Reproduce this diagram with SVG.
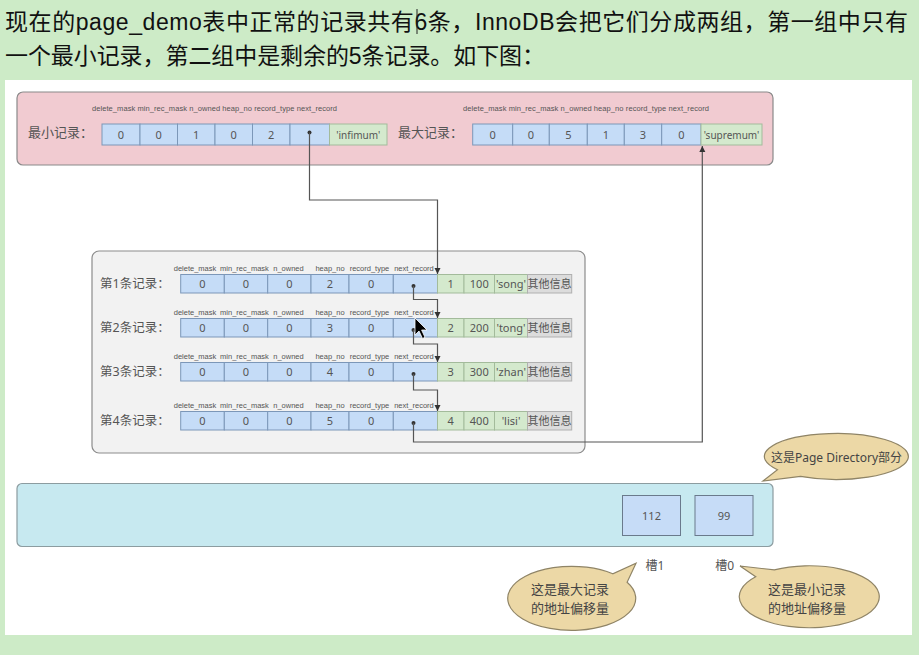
<svg xmlns="http://www.w3.org/2000/svg" width="919" height="655" viewBox="0 0 919 655">
<style>
.hd{font-family:"Liberation Sans","Noto Sans CJK SC",sans-serif;font-size:23px;fill:#111}
.t{font-family:"Noto Sans","Noto Sans CJK SC",sans-serif;fill:#555}
.fl{font-family:"Liberation Sans","Noto Sans CJK SC",sans-serif;font-size:7.5px;text-anchor:middle;fill:#555}
.v{font-size:11px;text-anchor:middle}
.lb{font-size:12.5px;fill:#555}
.b{fill:#c5dcf7;stroke:#7c97b8;stroke-width:1}
.g{fill:#d4e9cd;stroke:#a3bb9b;stroke-width:1}
.gy{fill:#dcdcdc;stroke:#b0b0b0;stroke-width:1}
.cn{fill:none;stroke:#555;stroke-width:1.2}
.dot{fill:#333}
.bub{fill:#ecd8a6;stroke:#8f8466;stroke-width:1.2}
.bt{font-size:13px;text-anchor:middle;fill:#444}
</style>
<defs>
<marker id="ah" markerUnits="userSpaceOnUse" markerWidth="7" markerHeight="7" refX="6" refY="3" orient="auto">
<path d="M0,0 L6,3 L0,6 z" fill="#333"/>
</marker>
</defs>
<rect x="0" y="0" width="919" height="655" fill="#cdebc7"/>
<text class="hd" x="5" y="30" textLength="903" lengthAdjust="spacing">现在的page_demo表中正常的记录共有6条，InnoDB会把它们分成两组，第一组中只有</text>
<text class="hd" x="5" y="64" textLength="540" lengthAdjust="spacing">一个最小记录，第二组中是剩余的5条记录。如下图：</text>
<line x1="417" y1="9" x2="417" y2="34" stroke="#222" stroke-width="1"/>
<rect x="5" y="80" width="907" height="555" fill="#ffffff"/>

<g id="top-panel">
<rect x="17" y="92" width="756" height="73" rx="6" fill="#f1cbd1" stroke="#8a8a8a" stroke-width="1.2"/>
</g>

<g id="min-record" class="t">
<text class="lb" x="28" y="137" style="font-size:13px">最小记录：</text>
<text class="fl" x="92" y="111" textLength="245" style="text-anchor:start">delete_mask min_rec_mask n_owned heap_no record_type next_record</text>
<rect class="b" x="102" y="124" width="38" height="21"/>
<rect class="b" x="140" y="124" width="37.5" height="21"/>
<rect class="b" x="177.5" y="124" width="37.5" height="21"/>
<rect class="b" x="215" y="124" width="37.5" height="21"/>
<rect class="b" x="252.5" y="124" width="37.5" height="21"/>
<rect class="b" x="290" y="124" width="39.5" height="21"/>
<rect class="g" x="329.5" y="124" width="57.5" height="21"/>
<text class="v" x="121" y="138.5">0</text>
<text class="v" x="158.75" y="138.5">0</text>
<text class="v" x="196.25" y="138.5">1</text>
<text class="v" x="233.75" y="138.5">0</text>
<text class="v" x="271.25" y="138.5">2</text>
<circle class="dot" cx="309.5" cy="132.5" r="2"/>
<text class="v" x="358.25" y="138.5" style="font-size:10px">'infimum'</text>
</g>

<g id="max-record" class="t">
<text class="lb" x="398" y="137" style="font-size:13px">最大记录：</text>
<text class="fl" x="463" y="111" textLength="246" style="text-anchor:start">delete_mask min_rec_mask n_owned heap_no record_type next_record</text>
<rect class="b" x="472.7" y="124" width="40" height="21"/>
<rect class="b" x="512.7" y="124" width="36.6" height="21"/>
<rect class="b" x="549.3" y="124" width="38" height="21"/>
<rect class="b" x="587.3" y="124" width="37" height="21"/>
<rect class="b" x="624.3" y="124" width="37.4" height="21"/>
<rect class="b" x="661.7" y="124" width="39.3" height="21"/>
<rect class="g" x="701" y="124" width="61" height="21"/>
<text class="v" x="492.7" y="138.5">0</text>
<text class="v" x="531" y="138.5">0</text>
<text class="v" x="568.3" y="138.5">5</text>
<text class="v" x="605.8" y="138.5">1</text>
<text class="v" x="643" y="138.5">3</text>
<text class="v" x="681.35" y="138.5">0</text>
<text class="v" x="731.5" y="138.5" style="font-size:10px">'supremum'</text>
</g>

<g id="records-panel">
<rect x="92" y="251" width="493" height="202" rx="7" fill="#f2f2f2" stroke="#8c8c8c" stroke-width="1.2"/>
</g>

<g id="record-1" class="t">
<text class="lb" x="100" y="288">第1条记录：</text>
<text class="fl" x="195" y="271">delete_mask</text>
<text class="fl" x="244.5" y="271">min_rec_mask</text>
<text class="fl" x="288.5" y="271">n_owned</text>
<text class="fl" x="330" y="271">heap_no</text>
<text class="fl" x="369.5" y="271">record_type</text>
<text class="fl" x="414" y="271">next_record</text>
<rect class="b" x="180.7" y="274.5" width="43.6" height="18.5"/>
<rect class="b" x="224.3" y="274.5" width="43.4" height="18.5"/>
<rect class="b" x="267.7" y="274.5" width="43.3" height="18.5"/>
<rect class="b" x="311" y="274.5" width="38" height="18.5"/>
<rect class="b" x="349" y="274.5" width="44.3" height="18.5"/>
<rect class="b" x="393.3" y="274.5" width="44.2" height="18.5"/>
<rect class="g" x="437.5" y="274.5" width="26.5" height="18.5"/>
<rect class="g" x="464" y="274.5" width="30.5" height="18.5"/>
<rect class="g" x="494.5" y="274.5" width="33" height="18.5"/>
<rect class="gy" x="527.5" y="274.5" width="44.2" height="18.5"/>
<text class="v" x="202.5" y="288">0</text>
<text class="v" x="246" y="288">0</text>
<text class="v" x="289.35" y="288">0</text>
<text class="v" x="330" y="288">2</text>
<text class="v" x="371.15" y="288">0</text>
<circle class="dot" cx="413.5" cy="286" r="2"/>
<text class="v" x="450.75" y="288">1</text>
<text class="v" x="479.25" y="288">100</text>
<text class="v" x="511" y="288">'song'</text>
<text class="v" x="549.6" y="288">其他信息</text>
</g>

<g id="record-2" class="t" transform="translate(0,44)">
<text class="lb" x="100" y="288">第2条记录：</text>
<text class="fl" x="195" y="271">delete_mask</text>
<text class="fl" x="244.5" y="271">min_rec_mask</text>
<text class="fl" x="288.5" y="271">n_owned</text>
<text class="fl" x="330" y="271">heap_no</text>
<text class="fl" x="369.5" y="271">record_type</text>
<text class="fl" x="414" y="271">next_record</text>
<rect class="b" x="180.7" y="274.5" width="43.6" height="18.5"/>
<rect class="b" x="224.3" y="274.5" width="43.4" height="18.5"/>
<rect class="b" x="267.7" y="274.5" width="43.3" height="18.5"/>
<rect class="b" x="311" y="274.5" width="38" height="18.5"/>
<rect class="b" x="349" y="274.5" width="44.3" height="18.5"/>
<rect class="b" x="393.3" y="274.5" width="44.2" height="18.5"/>
<rect class="g" x="437.5" y="274.5" width="26.5" height="18.5"/>
<rect class="g" x="464" y="274.5" width="30.5" height="18.5"/>
<rect class="g" x="494.5" y="274.5" width="33" height="18.5"/>
<rect class="gy" x="527.5" y="274.5" width="44.2" height="18.5"/>
<text class="v" x="202.5" y="288">0</text>
<text class="v" x="246" y="288">0</text>
<text class="v" x="289.35" y="288">0</text>
<text class="v" x="330" y="288">3</text>
<text class="v" x="371.15" y="288">0</text>
<circle class="dot" cx="413.5" cy="286" r="2"/>
<text class="v" x="450.75" y="288">2</text>
<text class="v" x="479.25" y="288">200</text>
<text class="v" x="511" y="288">'tong'</text>
<text class="v" x="549.6" y="288">其他信息</text>
</g>

<g id="record-3" class="t" transform="translate(0,88)">
<text class="lb" x="100" y="288">第3条记录：</text>
<text class="fl" x="195" y="271">delete_mask</text>
<text class="fl" x="244.5" y="271">min_rec_mask</text>
<text class="fl" x="288.5" y="271">n_owned</text>
<text class="fl" x="330" y="271">heap_no</text>
<text class="fl" x="369.5" y="271">record_type</text>
<text class="fl" x="414" y="271">next_record</text>
<rect class="b" x="180.7" y="274.5" width="43.6" height="18.5"/>
<rect class="b" x="224.3" y="274.5" width="43.4" height="18.5"/>
<rect class="b" x="267.7" y="274.5" width="43.3" height="18.5"/>
<rect class="b" x="311" y="274.5" width="38" height="18.5"/>
<rect class="b" x="349" y="274.5" width="44.3" height="18.5"/>
<rect class="b" x="393.3" y="274.5" width="44.2" height="18.5"/>
<rect class="g" x="437.5" y="274.5" width="26.5" height="18.5"/>
<rect class="g" x="464" y="274.5" width="30.5" height="18.5"/>
<rect class="g" x="494.5" y="274.5" width="33" height="18.5"/>
<rect class="gy" x="527.5" y="274.5" width="44.2" height="18.5"/>
<text class="v" x="202.5" y="288">0</text>
<text class="v" x="246" y="288">0</text>
<text class="v" x="289.35" y="288">0</text>
<text class="v" x="330" y="288">4</text>
<text class="v" x="371.15" y="288">0</text>
<circle class="dot" cx="413.5" cy="286" r="2"/>
<text class="v" x="450.75" y="288">3</text>
<text class="v" x="479.25" y="288">300</text>
<text class="v" x="511" y="288">'zhan'</text>
<text class="v" x="549.6" y="288">其他信息</text>
</g>

<g id="record-4" class="t" transform="translate(0,137)">
<text class="lb" x="100" y="288">第4条记录：</text>
<text class="fl" x="195" y="271">delete_mask</text>
<text class="fl" x="244.5" y="271">min_rec_mask</text>
<text class="fl" x="288.5" y="271">n_owned</text>
<text class="fl" x="330" y="271">heap_no</text>
<text class="fl" x="369.5" y="271">record_type</text>
<text class="fl" x="414" y="271">next_record</text>
<rect class="b" x="180.7" y="274.5" width="43.6" height="18.5"/>
<rect class="b" x="224.3" y="274.5" width="43.4" height="18.5"/>
<rect class="b" x="267.7" y="274.5" width="43.3" height="18.5"/>
<rect class="b" x="311" y="274.5" width="38" height="18.5"/>
<rect class="b" x="349" y="274.5" width="44.3" height="18.5"/>
<rect class="b" x="393.3" y="274.5" width="44.2" height="18.5"/>
<rect class="g" x="437.5" y="274.5" width="26.5" height="18.5"/>
<rect class="g" x="464" y="274.5" width="30.5" height="18.5"/>
<rect class="g" x="494.5" y="274.5" width="33" height="18.5"/>
<rect class="gy" x="527.5" y="274.5" width="44.2" height="18.5"/>
<text class="v" x="202.5" y="288">0</text>
<text class="v" x="246" y="288">0</text>
<text class="v" x="289.35" y="288">0</text>
<text class="v" x="330" y="288">5</text>
<text class="v" x="371.15" y="288">0</text>
<circle class="dot" cx="413.5" cy="286" r="2"/>
<text class="v" x="450.75" y="288">4</text>
<text class="v" x="479.25" y="288">400</text>
<text class="v" x="511" y="288">'lisi'</text>
<text class="v" x="549.6" y="288">其他信息</text>
</g>

<g id="connectors">
<path class="cn" d="M309.5,132.5 V200 H437.5 V274" marker-end="url(#ah)"/>
<path class="cn" d="M413.5,286 V299.5 H437.5 V318" marker-end="url(#ah)"/>
<path class="cn" d="M413.5,330 V344 H437.5 V362" marker-end="url(#ah)"/>
<path class="cn" d="M413.5,374 V390 H437.5 V411" marker-end="url(#ah)"/>
<path class="cn" d="M413.5,423 V442 H702.3 V146" marker-end="url(#ah)"/>
</g>

<g id="page-directory">
<rect x="17" y="483.5" width="756" height="63" rx="5" fill="#c7e9f0" stroke="#8c9ca0" stroke-width="1.2"/>
</g>
<g id="slot-1" class="t">
<rect x="622.5" y="495.5" width="58" height="40" fill="#c6dcf7" stroke="#6a7a8c" stroke-width="1"/>
<text class="v" x="651.5" y="519.5">112</text>
<text class="lb" x="655" y="570" text-anchor="middle" style="font-size:12px">槽1</text>
</g>
<g id="slot-0" class="t">
<rect x="695" y="495.5" width="58" height="40" fill="#c6dcf7" stroke="#6a7a8c" stroke-width="1"/>
<text class="v" x="724" y="519.5">99</text>
<text class="lb" x="724.7" y="570" text-anchor="middle" style="font-size:12px">槽0</text>
</g>

<g id="callout-page-directory" class="t">
<path class="bub" d="M777.5,469.7 A72,23 0 1 1 800.5,476.4 L763,481 Z"/>
<text x="836.5" y="462" style="font-size:12px;text-anchor:middle;fill:#444">这是Page Directory部分</text>
</g>
<g id="callout-max" class="t">
<path class="bub" d="M627.1,582.3 A64,32 0 1 1 612.8,573.8 L636,563.3 Z"/>
<text class="bt" x="570" y="594">这是最大记录</text>
<text class="bt" x="570" y="613">的地址偏移量</text>
</g>
<g id="callout-min" class="t">
<path class="bub" d="M774.3,569.9 A70,31 0 1 1 755.7,576.8 L740,566 Z"/>
<text class="bt" x="807" y="594">这是最小记录</text>
<text class="bt" x="807" y="613">的地址偏移量</text>
</g>

<path d="M415,318 L415,335 L419,331 L422.5,338.5 L425,337.3 L421.6,330 L427,330 Z" fill="#000" stroke="#fff" stroke-width="0.8"/>
</svg>
